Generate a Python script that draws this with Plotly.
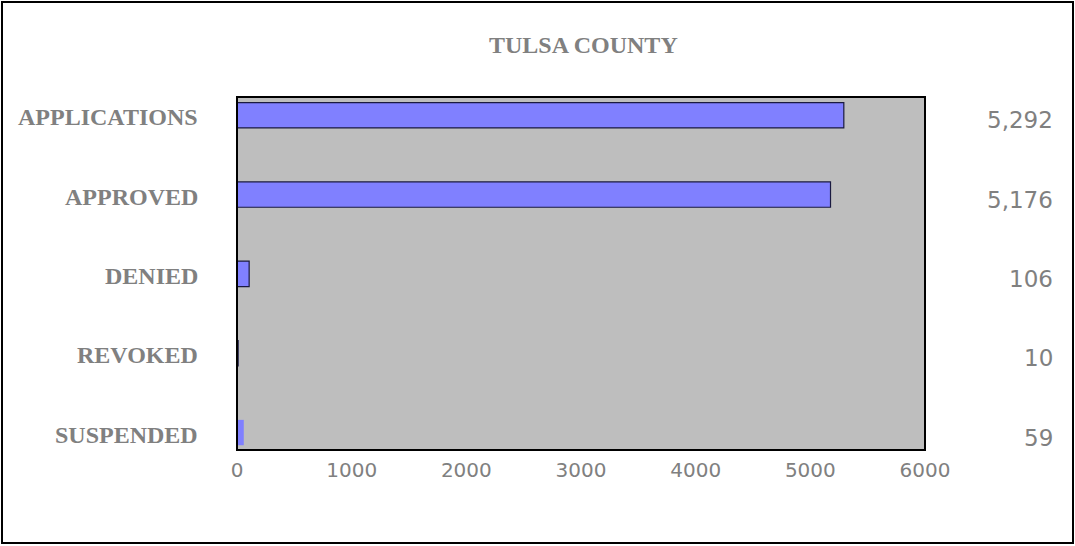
import plotly.graph_objects as go

# data
categories = ["APPLICATIONS", "APPROVED", "DENIED", "REVOKED", "SUSPENDED"]
counts = [5292, 5176, 106, 10, 59]
value_labels = ["5,292", "5,176", "106", "10", "59"]
x_ticks = [0, 1000, 2000, 3000, 4000, 5000, 6000]
title = "TULSA COUNTY"

W, H = 1075, 546
L, R, T, B = 237, 150, 97, 96
pw, ph = W - L - R, H - T - B

def px_x(p):  # pixel -> paper x
    return (p - L) / pw

def px_y(p):  # pixel -> paper y
    return (H - B - p) / ph

gray_txt = "#808080"
serif = "Liberation Serif, Times New Roman, serif"
sans = "Verdana, DejaVu Sans, sans-serif"

fig = go.Figure()
fig.add_trace(go.Bar(
    x=counts, y=categories, orientation="h", width=0.32,
    marker=dict(color="#8080FF",
                line=dict(color="#1a1a40", width=[1.2, 1.2, 1.2, 1.2, 0])),
    hoverinfo="x+y", showlegend=False,
))

annotations = []
for c, v in zip(categories, value_labels):
    annotations.append(dict(x=px_x(200), y=c, xref="paper", yref="y", text=c,
                            xanchor="right", yanchor="middle", showarrow=False, yshift=-2,
                            font=dict(family=serif, size=24, color=gray_txt, weight="bold")))
    annotations.append(dict(x=px_x(1055), y=c, xref="paper", yref="y", text=v,
                            xanchor="right", yanchor="middle", showarrow=False, yshift=-5,
                            font=dict(family=sans, size=23, color=gray_txt)))
annotations.append(dict(x=px_x(583), y=px_y(45), xref="paper", yref="paper", text=title,
                        xanchor="center", yanchor="middle", showarrow=False,
                        font=dict(family=serif, size=24, color=gray_txt, weight="bold")))

shapes = [
    # plot area frame
    dict(type="rect", xref="paper", yref="paper", x0=0, x1=1, y0=0, y1=1,
         line=dict(color="black", width=2), layer="above"),
    # outer chart border
    dict(type="rect", xref="paper", yref="paper", x0=px_x(2), x1=px_x(1073),
         y0=px_y(543), y1=px_y(2), line=dict(color="black", width=2)),
]

fig.update_layout(
    width=W, height=H,
    margin=dict(l=L, r=R, t=T, b=B),
    paper_bgcolor="white", plot_bgcolor="#BEBEBE",
    xaxis=dict(range=[0, 6000], tickvals=x_ticks, showgrid=False, zeroline=False,
               ticks="", showline=False, ticklabelstandoff=6,
               tickfont=dict(family=sans, size=20, color=gray_txt)),
    yaxis=dict(categoryorder="array", categoryarray=categories, range=[4.22, -0.23],
               showticklabels=False, showgrid=False, zeroline=False, ticks=""),
    annotations=annotations, shapes=shapes,
)

fig.write_html("out.html", config={"displayModeBar": False},
               post_script="document.body.style.margin='0';")
